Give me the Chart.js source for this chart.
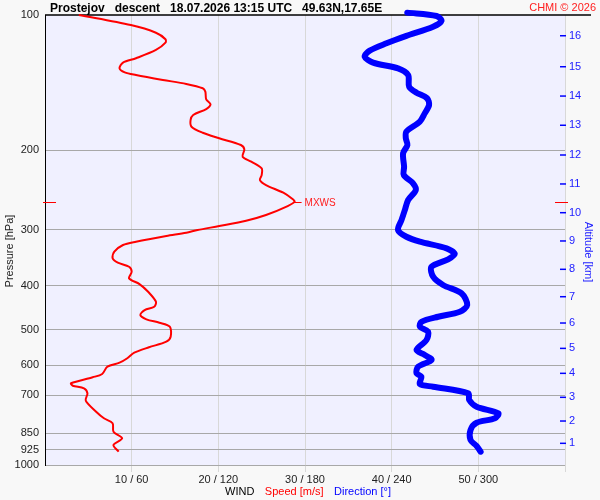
<!DOCTYPE html>
<html><head><meta charset="utf-8">
<script src="https://cdn.jsdelivr.net/npm/chart.js@4"></script>
<style>html,body{margin:0;padding:0;background:#f8f8f8}canvas{display:block}</style>
</head><body>
<canvas id="c" width="600" height="500"></canvas>
<script>
// ---- data ----
const speedMs = [3.9,9.9,12.8,13.9,13.9,12.8,10.5,9.0,8.6,9.2,10.5,13.6,16.3,18.2,18.5,18.6,19.1,18.6,17.1,16.8,16.9,18.2,20.1,22.6,23.0,22.8,23.8,25.0,25.0,24.8,25.5,27.5,28.6,28.8,28.0,25.5,23.2,20.1,17.6,16.3,14.0,10.5,9.0,8.0,7.8,8.4,9.7,10.0,9.7,10.9,11.9,12.8,12.6,11.5,11.0,11.7,13.2,14.4,14.5,14.0,12.0,10.3,9.5,8.6,7.2,6.6,5.5,3.0,3.2,4.5,4.9,4.7,5.9,6.8,7.8,7.9,8.9,7.9,8.5];
const speedHPa = [100,105.3,109.5,113.2,115.2,119.6,124.8,127.6,131.4,134.1,135.9,139.4,142.3,145.5,148.0,153.9,157.9,161.8,166.8,171.1,177.1,182.7,187.9,194.5,198.9,206.5,211.8,219.2,226.8,232.7,238.7,248.3,256.8,260.0,265.8,278.3,286.6,294.4,300.5,304.7,309.8,319.0,324.4,335.7,347.3,355.2,362.6,372.0,384.8,396.2,412.1,433.7,445.0,452.6,464.2,474.5,482.8,492.8,518.6,532.1,547.5,562.9,579.2,592.4,604.7,627.7,638.4,658.3,666.5,675.4,692.9,719.6,761.3,787.4,807.8,843.3,872.3,902.7,934.2];
const dirDeg = [250.8,271.1,274.5,268.7,250.2,236.4,224.8,221.3,227.1,244.4,251.4,252.1,257.2,264.5,265.9,262.9,259.5,250.2,249.8,250.9,247.9,248.6,248.4,254.8,256.7,251.4,249.1,246.8,244.4,250.2,259.5,278.0,283.7,279.1,267.6,268.7,275.6,288.4,292.3,287.2,272.2,260.6,259.5,265.2,264.1,257.2,262.9,267.6,258.3,257.2,260.6,259.5,268.7,293.0,293.7,298.8,313.8,311.5,298.8,294.6,294.6,298.8,301.6];
const dirHPa = [98.8,100.5,103.0,106.2,111.3,115.6,120.0,123.8,127.6,131.4,135.9,144.3,148.8,153.1,158.5,165.4,172.6,181.6,187.9,194.5,202.9,217.4,226.8,236.6,244.9,257.7,271.4,285.6,300.5,311.0,319.0,330.0,339.8,349.1,362.6,381.6,398.1,415.5,441.1,456.5,468.3,480.6,492.8,505.6,527.5,555.1,569.5,584.3,604.7,625.5,636.4,660.7,669.9,692.9,717.0,742.0,767.6,787.4,805.4,836.0,879.9,907.3,934.2];
const pressureTicks = [100,200,300,400,500,600,700,850,925,1000];
const altitudeKm = [1,2,3,4,5,6,7,8,9,10,11,12,13,14,15,16];
const altitudeHPa = [895,798.5,707.3,625.6,550.6,483.6,422.7,367.4,317.8,275.0,237.4,204.7,175.8,151.4,130.3,111.2];
const speedTicks = [10,20,30,40,50];
const dirTicks = [60,120,180,240,300];
const titleText = 'Prostejov   descent   18.07.2026 13:15 UTC   49.63N,17.65E';
const creditText = 'CHMI \u00A9 2026';

const FONT = "'Liberation Sans', Arial, sans-serif";
Chart.defaults.font.family = FONT;

const deco = {
  id: 'deco',
  beforeDraw(chart) {
    const {ctx, chartArea: a} = chart;
    ctx.save();
    ctx.fillStyle = '#f8f8f8';
    ctx.fillRect(0, 0, chart.width, chart.height);
    ctx.fillStyle = '#f0f0ff';
    ctx.fillRect(a.left, a.top, a.right - a.left, a.bottom - a.top);
    ctx.restore();
  },
  beforeDatasetsDraw(chart) {
    const {ctx, chartArea: a, scales} = chart;
    ctx.save();
    // top frame line
    ctx.strokeStyle = '#000'; ctx.lineWidth = 1.5;
    ctx.beginPath(); ctx.moveTo(a.left, a.top); ctx.lineTo(591, a.top); ctx.stroke();
    // altitude tick marks (inside)
    ctx.strokeStyle = '#0000ff'; ctx.lineWidth = 1.5;
    altitudeHPa.forEach(p => {
      const y = scales.yAlt.getPixelForValue(p);
      ctx.beginPath(); ctx.moveTo(a.right - 5, y); ctx.lineTo(a.right + 1, y); ctx.stroke();
    });
    ctx.restore();
  },
  afterDatasetsDraw(chart) {
    const {ctx, chartArea: a, scales} = chart;
    const i = speedMs.indexOf(Math.max(...speedMs));
    const px = scales.x.getPixelForValue(speedMs[i]);
    const py = Math.round(scales.y.getPixelForValue(speedHPa[i])) + 0.5;
    ctx.save();
    ctx.strokeStyle = '#ff0000'; ctx.lineWidth = 1;
    ctx.beginPath();
    ctx.moveTo(px - 1, py); ctx.lineTo(px + 7, py);
    ctx.moveTo(a.left - 2, py); ctx.lineTo(a.left + 11, py);
    ctx.moveTo(a.right - 10, py); ctx.lineTo(a.right + 3, py);
    ctx.stroke();
    ctx.fillStyle = '#ff2020';
    ctx.font = '10px ' + FONT;
    ctx.textBaseline = 'middle';
    ctx.fillText('MXWS', px + 10, py + 0.5);
    ctx.restore();
  },
  afterDraw(chart) {
    const {ctx} = chart;
    ctx.save();
    ctx.textBaseline = 'alphabetic';
    ctx.textAlign = 'left';
    ctx.fillStyle = '#000';
    ctx.font = 'bold 12px ' + FONT;
    ctx.fillText(titleText, 50, 11.5);
    ctx.font = '11px ' + FONT;
    ctx.fillStyle = '#ff2020';
    ctx.textAlign = 'right';
    ctx.fillText(creditText, 596, 11);
    ctx.textAlign = 'left';
    let x = 225;
    [['WIND', '#000'], ['Speed [m/s]', '#ff0000'], ['Direction [\u00B0]', '#0000ff']].forEach(([t, c]) => {
      ctx.fillStyle = c; ctx.fillText(t, x, 495);
      x += ctx.measureText(t).width + 10.5;
    });
    ctx.textAlign = 'center';
    ctx.save(); ctx.translate(12.5, 251); ctx.rotate(-Math.PI / 2);
    ctx.fillStyle = '#222'; ctx.fillText('Pressure [hPa]', 0, 0); ctx.restore();
    ctx.save(); ctx.translate(585, 252); ctx.rotate(Math.PI / 2);
    ctx.fillStyle = '#2020ff'; ctx.fillText('Altitude [km]', 0, 0); ctx.restore();
    ctx.restore();
  }
};

new Chart(document.getElementById('c'), {
  type: 'line',
  data: {
    datasets: [
      { label: 'Speed [m/s]', data: speedMs.map((s, i) => ({x: s, y: speedHPa[i]})),
        xAxisID: 'x', yAxisID: 'y', borderColor: '#ff0000', borderWidth: 2,
        pointRadius: 0, tension: 0.3, clip: false, fill: false },
      { label: 'Direction [\u00B0]', data: dirDeg.map((d, i) => ({x: d, y: dirHPa[i]})),
        xAxisID: 'x2', yAxisID: 'y', borderColor: '#0000ff', borderWidth: 6,
        pointRadius: 0, tension: 0.3, clip: false, fill: false,
        borderJoinStyle: 'round', borderCapStyle: 'round' }
    ]
  },
  options: {
    responsive: false, animation: false, devicePixelRatio: 1,
    layout: {padding: {top: 15, left: 0, right: 0, bottom: 0}},
    plugins: {legend: {display: false}, tooltip: {enabled: false}},
    scales: {
      x: {
        type: 'linear', position: 'bottom', min: 0, max: 60,
        afterBuildTicks: s => { s.ticks = [0, ...speedTicks, 60].map(v => ({value: v})); },
        afterFit: s => { s.height = 35; },
        grid: { color: c => (c.tick && c.tick.value === 0) ? 'rgba(0,0,0,0)' : '#d8d8d8',
                tickLength: 7, drawTicks: true },
        border: {display: false},
        ticks: { autoSkip: false, maxRotation: 0, padding: 1, color: '#222', font: {size: 11},
                 callback: v => { const i = speedTicks.indexOf(v); return i < 0 ? '' : speedTicks[i] + ' / ' + dirTicks[i]; } }
      },
      x2: { type: 'linear', display: false, min: 0, max: 360 },
      y: {
        type: 'logarithmic', position: 'left', reverse: true, min: 100, max: 1000,
        afterBuildTicks: s => { s.ticks = pressureTicks.map(v => ({value: v})); },
        afterFit: s => { s.width = 45; },
        grid: { color: c => (c.tick && c.tick.value === 100) ? 'rgba(0,0,0,0)' : '#a8a8a8', drawTicks: false },
        border: {display: true, color: '#000', width: 1},
        ticks: { autoSkip: false, padding: 6, color: '#222', font: {size: 11}, callback: v => String(v) }
      },
      yAlt: {
        type: 'logarithmic', position: 'right', reverse: true, min: 100, max: 1000,
        afterBuildTicks: s => { s.ticks = altitudeHPa.map(v => ({value: v})); },
        afterFit: s => { s.width = 35; },
        grid: {drawOnChartArea: false, drawTicks: false},
        border: {display: false},
        ticks: { autoSkip: false, padding: 4, color: '#2020ff', font: {size: 11},
                 callback: (v, i) => String(altitudeKm[i]) }
      }
    }
  },
  plugins: [deco]
});
</script>
</body></html>
